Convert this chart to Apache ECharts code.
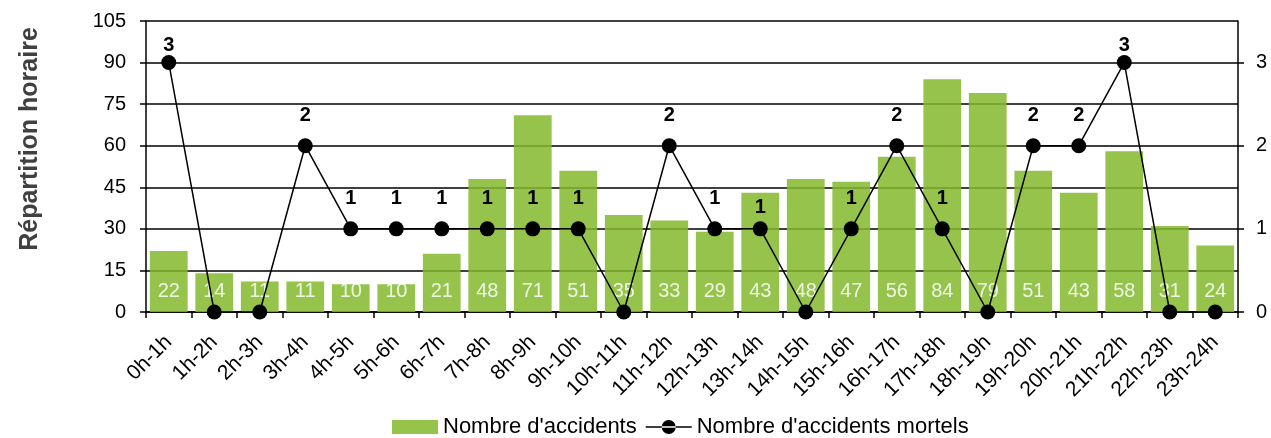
<!DOCTYPE html>
<html><head><meta charset="utf-8">
<script src="https://cdn.jsdelivr.net/npm/echarts@6/dist/echarts.min.js"></script>
<style>html,body{margin:0;padding:0;background:#fff}#c{width:1271px;height:438px}</style>
</head><body><div id="c"></div>
<script>
const categories = ['0h-1h','1h-2h','2h-3h','3h-4h','4h-5h','5h-6h','6h-7h','7h-8h','8h-9h','9h-10h','10h-11h','11h-12h','12h-13h','13h-14h','14h-15h','15h-16h','16h-17h','17h-18h','18h-19h','19h-20h','20h-21h','21h-22h','22h-23h','23h-24h'];
const accidents = [22,14,11,11,10,10,21,48,71,51,35,33,29,43,48,47,56,84,79,51,43,58,31,24];
const mortels = [3,0,0,2,1,1,1,1,1,1,0,2,1,1,0,1,2,1,0,2,2,3,0,0];
const leftTicks = [0,15,30,45,60,75,90,105];
const rightTicks = [0,1,2,3];

const chart = echarts.init(document.getElementById('c'));
const font = 'Liberation Sans, Arial, sans-serif';
const lineData = mortels.map((v, i) => ({
  value: v,
  label: {distance: v === 3 ? 0 : (i === 13 ? 4 : 13)}
}));
const lineIcon = 'path://M0,6.25h46v1.5h-46z M16,7a7,7 0 1,0 14,0a7,7 0 1,0 -14,0z';
chart.setOption({
  animation: false,
  textStyle: {fontFamily: font},
  grid: {left: 146, right: 33, top: 21, bottom: 126},
  graphic: [{
    type: 'text', x: 30, y: 139, rotation: Math.PI / 2,
    style: {text: 'Répartition horaire', font: 'bold 25px ' + font, fill: '#404040', align: 'center', verticalAlign: 'middle'}
  }],
  legend: {
    top: 411, left: 387, itemGap: 9,
    itemWidth: 46, itemHeight: 14,
    textStyle: {fontSize: 22, color: '#000', fontFamily: font},
    data: [
      {name: "Nombre d'accidents", icon: 'rect'},
      {name: "Nombre d'accidents mortels", icon: lineIcon, itemStyle: {color: '#000'}}
    ]
  },
  xAxis: {
    type: 'category', data: categories,
    axisLine: {lineStyle: {color: '#000', width: 1.5}},
    axisTick: {show: true, length: 6, lineStyle: {color: '#000', width: 1.5}},
    axisLabel: {rotate: 45, fontSize: 21, color: '#000', margin: 27, interval: 0}
  },
  yAxis: [
    {
      type: 'value', min: 0, max: 105, interval: 15,
      axisLine: {show: true, lineStyle: {color: '#000', width: 1.5}},
      axisTick: {show: true, length: 6, lineStyle: {color: '#000', width: 1.5}},
      axisLabel: {fontSize: 20, color: '#000', margin: 20},
      splitLine: {lineStyle: {color: '#000', width: 1.5}}
    },
    {
      type: 'value', min: 0, max: 3.5, interval: 1,
      axisLine: {show: true, lineStyle: {color: '#000', width: 1.5}},
      axisTick: {show: true, length: 6, customValues: rightTicks, lineStyle: {color: '#000', width: 1.5}},
      axisLabel: {fontSize: 20, color: '#000', margin: 18, customValues: rightTicks},
      splitLine: {show: false}
    }
  ],
  series: [
    {
      name: "Nombre d'accidents", type: 'bar', data: accidents,
      barCategoryGap: '17%',
      itemStyle: {color: 'rgb(130,185,44)', opacity: 0.85},
      label: {show: true, position: 'insideBottom', distance: 11, color: '#fff', fontSize: 20, fontFamily: font}
    },
    {
      name: "Nombre d'accidents mortels", type: 'line', yAxisIndex: 1, data: lineData,
      symbol: 'circle', symbolSize: 15,
      lineStyle: {color: '#000', width: 1.5},
      itemStyle: {color: '#000'},
      label: {
        show: true, position: 'top', fontSize: 20, fontWeight: 'bold', color: '#000', fontFamily: font,
        formatter: p => p.value === 0 ? '' : String(p.value)
      }
    }
  ]
});
</script>
</body></html>
